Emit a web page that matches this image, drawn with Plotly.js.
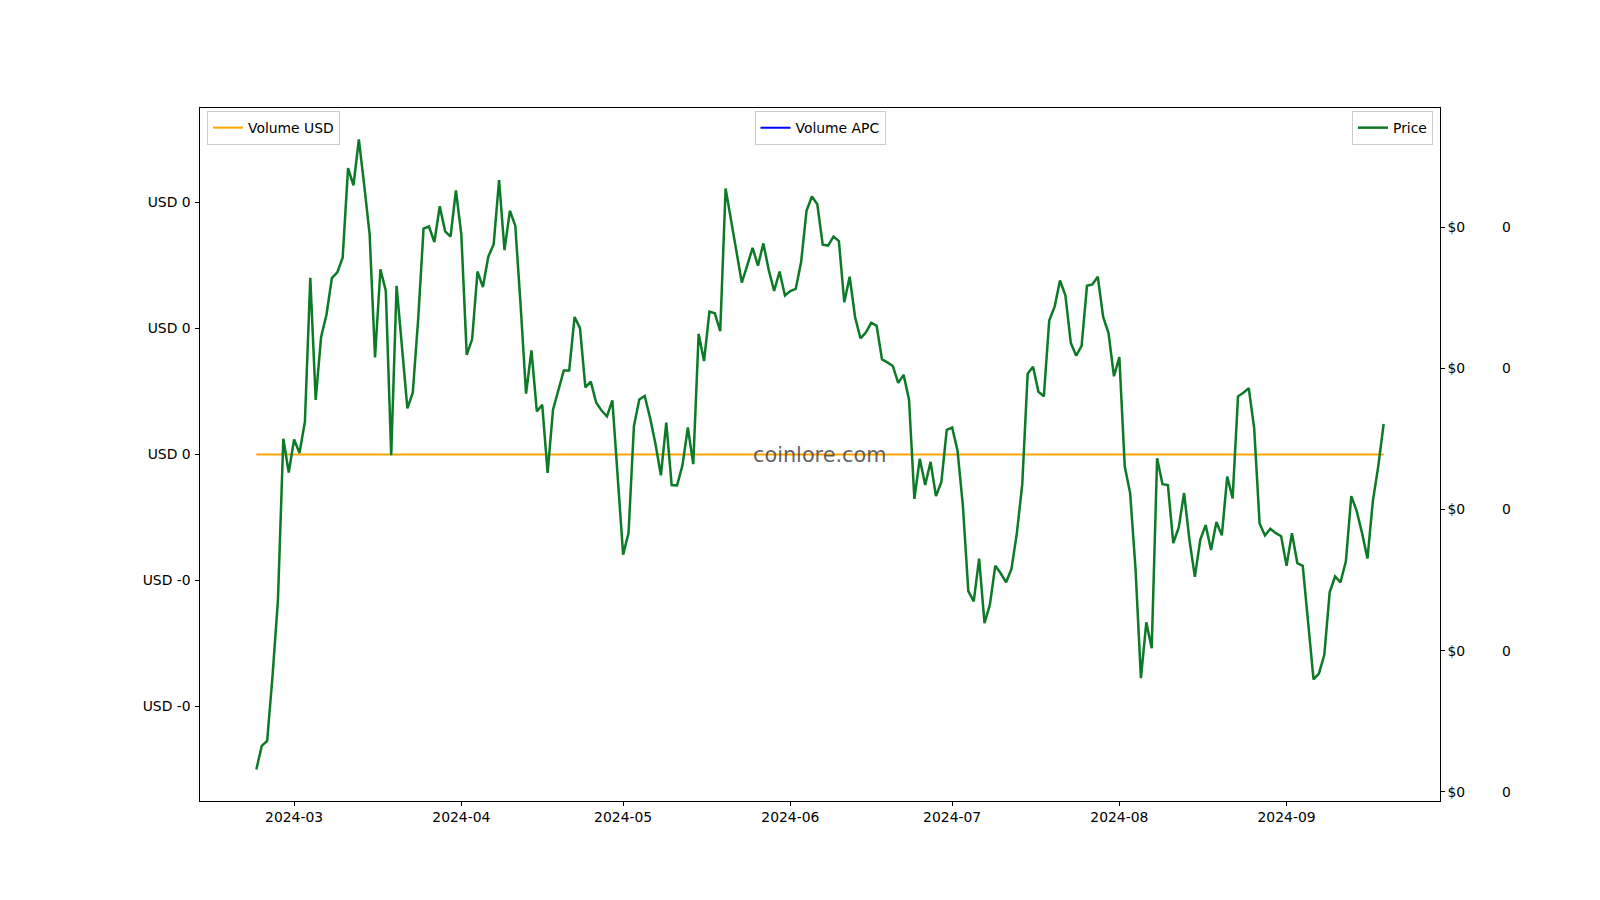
<!DOCTYPE html>
<html>
<head>
<meta charset="utf-8">
<script src="https://cdn.plot.ly/plotly-3.0.1.min.js"></script>
<style>
  html, body { margin: 0; padding: 0; background: #fff; }
  #chart { width: 1600px; height: 900px; }
</style>
</head>
<body>
<div id="chart"></div>
<script>
// daily price, starting 2024-02-23
var startDate = "2024-02-23";
var price = [
  0.010159, 0.010326, 0.010361, 0.010822, 0.011359, 0.012502, 0.012262, 0.012496, 0.012401, 0.012622,
  0.013642, 0.012777, 0.013222, 0.013380, 0.013639, 0.013680, 0.013784, 0.014419, 0.014296, 0.014621,
  0.014296, 0.013949, 0.013077, 0.013702, 0.013548, 0.012385, 0.013585, 0.013159, 0.012717, 0.012828,
  0.013349, 0.013990, 0.014005, 0.013895, 0.014148, 0.013971, 0.013933, 0.014261, 0.013949, 0.013096,
  0.013206, 0.013686, 0.013576, 0.013791, 0.013879, 0.014334, 0.013838, 0.014116, 0.014012, 0.013443,
  0.012821, 0.013128, 0.012695, 0.012742, 0.012259, 0.012708, 0.012843, 0.012985, 0.012985, 0.013364,
  0.013285, 0.012865, 0.012906, 0.012758, 0.012701, 0.012660, 0.012774, 0.012227, 0.011681, 0.011833,
  0.012591, 0.012780, 0.012805, 0.012648, 0.012464, 0.012243, 0.012616, 0.012174, 0.012171, 0.012313,
  0.012581, 0.012322, 0.013244, 0.013052, 0.013402, 0.013390, 0.013263, 0.014274, 0.014043, 0.013822,
  0.013608, 0.013728, 0.013854, 0.013728, 0.013885, 0.013696, 0.013548, 0.013686, 0.013516, 0.013548,
  0.013563, 0.013753, 0.014116, 0.014217, 0.014163, 0.013876, 0.013870, 0.013933, 0.013901, 0.013469,
  0.013649, 0.013364, 0.013213, 0.013254, 0.013323, 0.013301, 0.013064, 0.013042, 0.013017, 0.012897,
  0.012954, 0.012780, 0.012076, 0.012360, 0.012174, 0.012338, 0.012095, 0.012196, 0.012565, 0.012581,
  0.012417, 0.012022, 0.011422, 0.011350, 0.011653, 0.011195, 0.011327, 0.011602, 0.011549, 0.011485,
  0.011580, 0.011833, 0.012180, 0.012963, 0.013011, 0.012834, 0.012802, 0.013339, 0.013437, 0.013623,
  0.013516, 0.013181, 0.013090, 0.013159, 0.013585, 0.013595, 0.013649, 0.013364, 0.013248, 0.012944,
  0.013080, 0.012306, 0.012117, 0.011580, 0.010806, 0.011201, 0.011018, 0.012363, 0.012180, 0.012174,
  0.011763, 0.011871, 0.012117, 0.011785, 0.011523, 0.011785, 0.011890, 0.011713, 0.011912, 0.011817,
  0.012234, 0.012079, 0.012802, 0.012828, 0.012859, 0.012575, 0.011902, 0.011817, 0.011864, 0.011833,
  0.011811, 0.011602, 0.011833, 0.011621, 0.011602, 0.011201, 0.010797, 0.010838, 0.010971, 0.011416,
  0.011526, 0.011485, 0.011634, 0.012095, 0.011991, 0.011833, 0.011653, 0.012060, 0.012306, 0.012606
];
// both volumes are flat zero
var volumeUsd = [
  0,0,0,0,0,0,0,0,0,0, 0,0,0,0,0,0,0,0,0,0, 0,0,0,0,0,0,0,0,0,0, 0,0,0,0,0,0,0,0,0,0,
  0,0,0,0,0,0,0,0,0,0, 0,0,0,0,0,0,0,0,0,0, 0,0,0,0,0,0,0,0,0,0, 0,0,0,0,0,0,0,0,0,0,
  0,0,0,0,0,0,0,0,0,0, 0,0,0,0,0,0,0,0,0,0, 0,0,0,0,0,0,0,0,0,0, 0,0,0,0,0,0,0,0,0,0,
  0,0,0,0,0,0,0,0,0,0, 0,0,0,0,0,0,0,0,0,0, 0,0,0,0,0,0,0,0,0,0, 0,0,0,0,0,0,0,0,0,0,
  0,0,0,0,0,0,0,0,0,0, 0,0,0,0,0,0,0,0,0,0, 0,0,0,0,0,0,0,0,0,0, 0,0,0,0,0,0,0,0,0,0,
  0,0,0,0,0,0,0,0,0,0
];
var volumeApc = [
  0,0,0,0,0,0,0,0,0,0, 0,0,0,0,0,0,0,0,0,0, 0,0,0,0,0,0,0,0,0,0, 0,0,0,0,0,0,0,0,0,0,
  0,0,0,0,0,0,0,0,0,0, 0,0,0,0,0,0,0,0,0,0, 0,0,0,0,0,0,0,0,0,0, 0,0,0,0,0,0,0,0,0,0,
  0,0,0,0,0,0,0,0,0,0, 0,0,0,0,0,0,0,0,0,0, 0,0,0,0,0,0,0,0,0,0, 0,0,0,0,0,0,0,0,0,0,
  0,0,0,0,0,0,0,0,0,0, 0,0,0,0,0,0,0,0,0,0, 0,0,0,0,0,0,0,0,0,0, 0,0,0,0,0,0,0,0,0,0,
  0,0,0,0,0,0,0,0,0,0, 0,0,0,0,0,0,0,0,0,0, 0,0,0,0,0,0,0,0,0,0, 0,0,0,0,0,0,0,0,0,0,
  0,0,0,0,0,0,0,0,0,0
];
var usdTickVals = [-0.04, -0.02, 0, 0.02, 0.04];
var usdTickText = ["USD -0", "USD -0", "USD 0", "USD 0", "USD 0"];
var priceTickVals = [0.010, 0.011, 0.012, 0.013, 0.014];
var priceTickText = ["$0", "$0", "$0", "$0", "$0"];
var apcTickText = ["0", "0", "0", "0", "0"];

// dates, one per day
var dates = [];
var d0 = new Date(startDate + "T00:00:00Z");
for (var i = 0; i < price.length; i++) {
    var d = new Date(d0.getTime() + i * 86400000);
    dates.push(d.toISOString().slice(0, 10));
}

// 5% margins like matplotlib
var t0 = d0.getTime();
var t1 = t0 + (price.length - 1) * 86400000;
var xpad = (t1 - t0) * 0.05;
var xRange = [new Date(t0 - xpad).toISOString(), new Date(t1 + xpad).toISOString()];
var pmin = Math.min.apply(null, price);
var pmax = Math.max.apply(null, price);
var ppad = (pmax - pmin) * 0.05;
var priceRange = [pmin - ppad, pmax + ppad];

var font = "DejaVu Sans, Arial, sans-serif";
var fs = 13.9;

var traces = [
    {
        x: dates, y: volumeUsd, type: "scatter", mode: "lines",
        name: "Volume USD", line: {color: "orange", width: 2},
        yaxis: "y", legend: "legend"
    },
    {
        x: dates, y: volumeApc, type: "scatter", mode: "lines",
        name: "Volume APC", line: {color: "blue", width: 2},
        yaxis: "y3", legend: "legend2"
    },
    {
        x: dates, y: price, type: "scatter", mode: "lines",
        name: "Price", line: {color: "#0c7a26", width: 2.5},
        yaxis: "y2", legend: "legend3"
    }
];

var legendBase = {
    font: {family: font, size: fs, color: "#000"},
    bgcolor: "rgba(255,255,255,0.8)",
    bordercolor: "#cccccc",
    borderwidth: 1,
    itemwidth: 30,
    yanchor: "top",
    y: 0.9955
};

var layout = {
    width: 1600,
    height: 900,
    margin: {l: 200, r: 60, t: 108, b: 99},
    paper_bgcolor: "#fff",
    plot_bgcolor: "#fff",
    font: {family: font, size: fs, color: "#000"},
    xaxis: {
        domain: [0, 1240 / 1340],
        type: "date",
        range: xRange,
        tick0: "2024-03-01",
        dtick: "M1",
        tickformat: "%Y-%m",
        ticks: "outside", ticklen: 3.5, tickwidth: 1, tickcolor: "#000",
        showline: true, linecolor: "#000", linewidth: 1.1, mirror: true,
        showgrid: false, zeroline: false,
        tickfont: {family: font, size: fs, color: "#000"}
    },
    yaxis: {
        range: [-0.055, 0.055],
        tickvals: usdTickVals,
        ticktext: usdTickText,
        ticks: "outside", ticklen: 3.5, tickwidth: 1, tickcolor: "#000",
        ticklabelstandoff: 2,
        showline: true, linecolor: "#000", linewidth: 1.1, mirror: true,
        showgrid: false, zeroline: false,
        tickfont: {family: font, size: fs, color: "#000"}
    },
    yaxis2: {
        overlaying: "y", side: "right", anchor: "x",
        range: priceRange,
        tickvals: priceTickVals,
        ticktext: priceTickText,
        ticks: "outside", ticklen: 3.5, tickwidth: 1, tickcolor: "#000",
        showline: true, linecolor: "#000", linewidth: 1.1,
        showgrid: false, zeroline: false,
        tickfont: {family: font, size: fs, color: "#000"}
    },
    yaxis3: {
        overlaying: "y", side: "right", anchor: "free",
        position: 1301 / 1340,
        range: priceRange,
        tickvals: priceTickVals,
        ticktext: apcTickText,
        ticks: "", showline: false,
        showgrid: false, zeroline: false,
        tickfont: {family: font, size: fs, color: "#000"}
    },
    showlegend: true,
    legend: Object.assign({}, legendBase, {x: 7 / 1340, xanchor: "left"}),
    legend2: Object.assign({}, legendBase, {x: 620 / 1340, xanchor: "center"}),
    legend3: Object.assign({}, legendBase, {x: 1233 / 1340, xanchor: "right"}),
    annotations: [{
        text: "coinlore.com",
        xref: "paper", yref: "paper",
        x: 620 / 1340, y: 0.5,
        xanchor: "center", yanchor: "middle",
        showarrow: false,
        font: {family: font, size: 20.8, color: "rgba(70,70,70,0.85)"}
    }]
};

Plotly.newPlot("chart", traces, layout, {displayModeBar: false, staticPlot: true});
</script>
</body>
</html>
